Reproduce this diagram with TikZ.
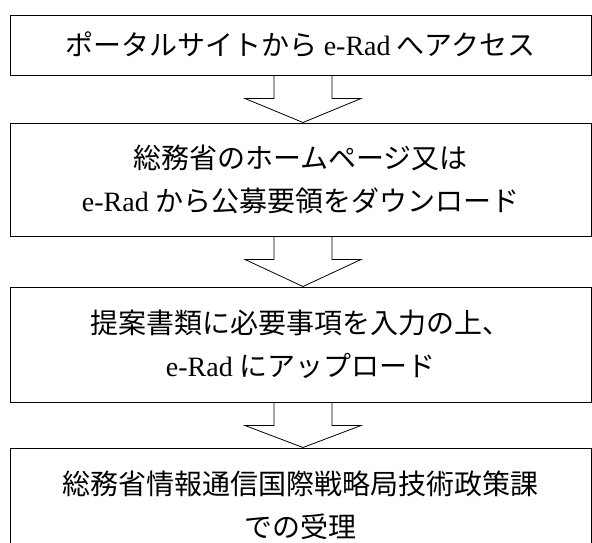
\documentclass[tikz,border=0pt]{standalone}
\usepackage{fontspec}
\setmainfont{Liberation Serif}
\newfontfamily\jpfont{Noto Sans CJK JP}
\usetikzlibrary{positioning}
\newcommand{\erad}{{\rmfamily e-Rad}}

\begin{document}
\begin{tikzpicture}[
        stepbox/.style={draw, line width=1pt, minimum width=581pt, inner sep=0pt, align=center,
            font=\jpfont\fontsize{28}{43}\selectfont},
        blockarrow/.style={draw, line width=0.8pt, line join=miter}
    ]
        \clip (0,0) rectangle (592pt,-542pt);
        \node[stepbox, minimum height=60pt] (a) at (300.5pt,-45pt) {ポータルサイトから \erad{} へアクセス};
        \node[stepbox, minimum height=113pt, below=47pt of a] (b) {総務省のホームページ又は\\\erad{} から公募要領をダウンロード};
        \node[stepbox, minimum height=115pt, below=50pt of b] (c) {提案書類に必要事項を入力の上、\\\erad{} にアップロード};
        \node[stepbox, minimum height=115pt, below=45pt of c] (d) {総務省情報通信国際戦略局技術政策課\\での受理};
        \foreach \u/\v in {a/b, b/c, c/d}{
            \coordinate (m) at ([shift={(2.5pt,-23pt)}]\u.south);
            \draw[blockarrow] ([xshift=-26.5pt]\u.south) -- ([xshift=-29pt]m) -- ([xshift=-58pt]m)
                -- ([xshift=2.5pt]\v.north) -- ([xshift=58pt]m) -- ([xshift=29pt]m) -- ([xshift=31.5pt]\u.south);
        }
    \end{tikzpicture}
\end{document}
